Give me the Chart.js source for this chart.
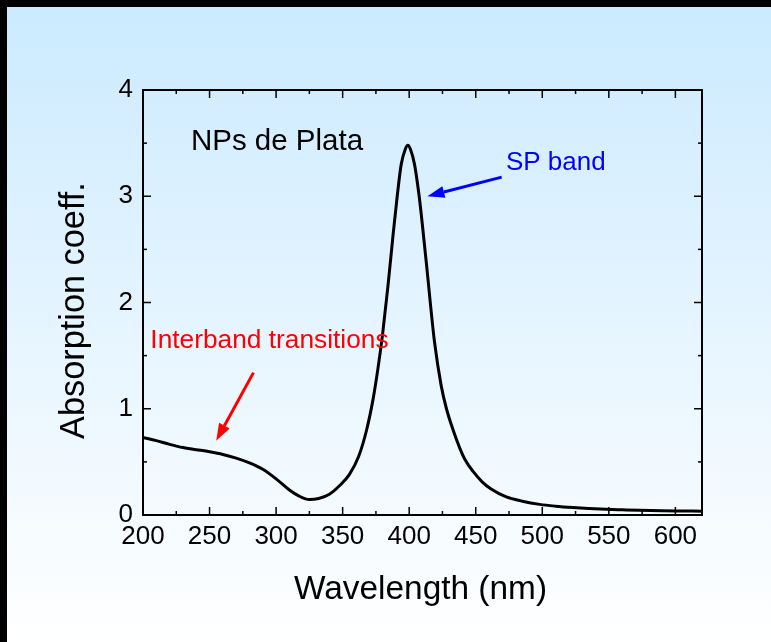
<!DOCTYPE html>
<html>
<head>
<meta charset="utf-8">
<script src="https://cdn.jsdelivr.net/npm/chart.js@4.4.1/dist/chart.umd.min.js"></script>
<style>
  html, body { margin: 0; padding: 0; background: #ffffff; overflow: hidden; }
  #chart { position: absolute; left: 0; top: 0; }
</style>
</head>
<body>
<canvas id="chart" width="771" height="642"></canvas>
<script>
// spectrum
const wavelength = [200, 210, 220, 230, 240, 250, 260, 270, 280, 290,
                    300, 310, 317, 325, 332, 340, 348, 355, 362, 368,
                    373, 377, 380, 384, 388, 391, 394, 397, 399, 401,
                    404, 407.5, 410, 413, 416, 419, 424, 428, 433, 438,
                    442, 448, 455, 461, 473, 485, 498, 510, 523, 535,
                    548, 560, 573, 590, 605, 620];
const absorption = [0.73, 0.70, 0.665, 0.635, 0.615, 0.595, 0.57, 0.535, 0.49, 0.43,
                    0.34, 0.235, 0.18, 0.145, 0.155, 0.195, 0.28, 0.38, 0.55, 0.80,
                    1.10, 1.42, 1.70, 2.15, 2.65, 3.00, 3.30, 3.44, 3.48, 3.44,
                    3.30, 3.00, 2.72, 2.36, 1.98, 1.63, 1.22, 1.00, 0.80, 0.63,
                    0.52, 0.41, 0.31, 0.25, 0.17, 0.13, 0.10, 0.083, 0.07, 0.061,
                    0.054, 0.049, 0.044, 0.040, 0.038, 0.036];

const xMajor = [200, 250, 300, 350, 400, 450, 500, 550, 600];
const xMinor = [225, 275, 325, 375, 425, 475, 525, 575];
const yMajor = [0, 1, 2, 3, 4];
const yMinor = [0.5, 1.5, 2.5, 3.5];

const xTitle = 'Wavelength (nm)';
const yTitle = 'Absorption coeff.';

const FONT = 'Liberation Sans, Arial, Helvetica, sans-serif';

// labels and arrows, in data coordinates
const notes = [
    { text: 'NPs de Plata', x: 236, y: 3.44, color: '#000000', size: 29.5 },
    { text: 'SP band', x: 472.7, y: 3.245, color: '#0000ff', size: 26 },
    { text: 'Interband transitions', x: 205.5, y: 1.576, color: '#ff0000', size: 26.3 }
];
const arrows = [
    { from: [469.5, 3.18], to: [413.7, 3.0], color: '#0000ff' },
    { from: [283, 1.34], to: [255, 0.70], color: '#ff0000' }
];

Chart.defaults.font.family = FONT;
Chart.defaults.color = '#000';

function line(ctx, x1, y1, x2, y2) {
    ctx.beginPath();
    ctx.moveTo(x1, y1);
    ctx.lineTo(x2, y2);
    ctx.stroke();
}

// page background: light blue fading to white, black bars top and left
const backdrop = {
    id: 'backdrop',
    beforeDraw(chart) {
        const { ctx, width, height } = chart;
        ctx.save();
        const g = ctx.createLinearGradient(0, 0, 0, height);
        g.addColorStop(0, '#cbeaff');
        g.addColorStop(1, '#ffffff');
        ctx.fillStyle = g;
        ctx.fillRect(0, 0, width, height);
        ctx.fillStyle = '#000';
        ctx.fillRect(0, 0, width, 7);
        ctx.fillRect(0, 0, 7, height);
        ctx.restore();
    }
};

const frameAndNotes = {
    id: 'frameAndNotes',
    afterDatasetsDraw(chart) {
        const { ctx, chartArea: a, scales: { x, y } } = chart;
        ctx.save();
        ctx.strokeStyle = '#000';
        ctx.lineWidth = 1.5;

        // ticks pointing inward on all four sides
        xMajor.forEach(v => {
            const px = x.getPixelForValue(v);
            line(ctx, px, a.bottom, px, a.bottom - 8);
            line(ctx, px, a.top, px, a.top + 8);
        });
        xMinor.forEach(v => {
            const px = x.getPixelForValue(v);
            line(ctx, px, a.bottom, px, a.bottom - 4);
            line(ctx, px, a.top, px, a.top + 4);
        });
        yMajor.forEach(v => {
            const py = y.getPixelForValue(v);
            line(ctx, a.left, py, a.left + 8, py);
            line(ctx, a.right, py, a.right - 8, py);
        });
        yMinor.forEach(v => {
            const py = y.getPixelForValue(v);
            line(ctx, a.left, py, a.left + 4, py);
            line(ctx, a.right, py, a.right - 4, py);
        });

        ctx.lineWidth = 2;
        ctx.strokeRect(a.left, a.top, a.width, a.height);

        // arrows
        arrows.forEach(ar => {
            const x1 = x.getPixelForValue(ar.from[0]), y1 = y.getPixelForValue(ar.from[1]);
            const x2 = x.getPixelForValue(ar.to[0]), y2 = y.getPixelForValue(ar.to[1]);
            const ang = Math.atan2(y2 - y1, x2 - x1);
            const headLen = 17, headW = 6;
            const bx = x2 - headLen * Math.cos(ang), by = y2 - headLen * Math.sin(ang);
            ctx.strokeStyle = ar.color;
            ctx.fillStyle = ar.color;
            ctx.lineWidth = 3;
            line(ctx, x1, y1, bx, by);
            ctx.beginPath();
            ctx.moveTo(x2, y2);
            ctx.lineTo(bx + headW * Math.sin(ang), by - headW * Math.cos(ang));
            ctx.lineTo(bx - headW * Math.sin(ang), by + headW * Math.cos(ang));
            ctx.closePath();
            ctx.fill();
        });

        // text labels
        ctx.textAlign = 'left';
        ctx.textBaseline = 'alphabetic';
        notes.forEach(n => {
            ctx.font = n.size + 'px ' + FONT;
            ctx.fillStyle = n.color;
            ctx.fillText(n.text, x.getPixelForValue(n.x), y.getPixelForValue(n.y));
        });

        // axis titles
        ctx.fillStyle = '#000';
        ctx.textAlign = 'center';
        ctx.font = '33.4px ' + FONT;
        ctx.fillText(xTitle, (a.left + a.right) / 2 - 2, 598.5);

        ctx.font = '34.3px ' + FONT;
        ctx.save();
        ctx.translate(83.5, 310.5);
        ctx.rotate(-Math.PI / 2);
        ctx.fillText(yTitle, 0, 0);
        ctx.restore();

        ctx.restore();
    }
};

new Chart(document.getElementById('chart'), {
    type: 'line',
    data: {
        datasets: [{
            data: wavelength.map((w, i) => ({ x: w, y: absorption[i] })),
            borderColor: '#000',
            borderWidth: 3,
            pointRadius: 0,
            cubicInterpolationMode: 'monotone',
            fill: false
        }]
    },
    options: {
        responsive: false,
        animation: false,
        devicePixelRatio: 1,
        layout: { padding: { top: 90, right: 69, left: 0, bottom: 0 } },
        plugins: { legend: { display: false }, tooltip: { enabled: false } },
        scales: {
            x: {
                type: 'linear',
                min: 200,
                max: 620,
                grid: { display: false, drawTicks: false },
                border: { display: false },
                afterBuildTicks: s => { s.ticks = xMajor.map(v => ({ value: v })); },
                afterFit: s => { s.height = 127; },
                ticks: { font: { size: 26 }, padding: 6, maxRotation: 0, color: '#000' }
            },
            y: {
                type: 'linear',
                min: 0,
                max: 4,
                grid: { display: false, drawTicks: false },
                border: { display: false },
                afterBuildTicks: s => { s.ticks = yMajor.map(v => ({ value: v })); },
                afterFit: s => { s.width = 143; },
                ticks: { font: { size: 26 }, padding: 10, color: '#000' }
            }
        }
    },
    plugins: [backdrop, frameAndNotes]
});
</script>
</body>
</html>
